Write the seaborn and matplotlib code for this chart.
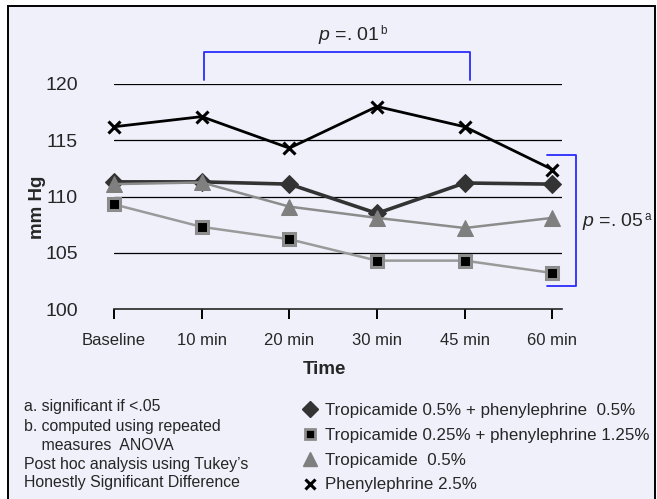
import matplotlib
matplotlib.use("Agg")
import matplotlib.pyplot as plt
from matplotlib.lines import Line2D
from matplotlib.patches import Rectangle
import seaborn as sns
import pandas as pd

# data
times = ["Baseline", "10 min", "20 min", "30 min", "45 min", "60 min"]
trop_phen_05 = [111.3, 111.3, 111.1, 108.5, 111.2, 111.1]
trop025_phen125 = [109.3, 107.3, 106.2, 104.3, 104.3, 103.2]
trop_05 = [111.1, 111.25, 109.1, 108.1, 107.2, 108.1]
phen_25 = [116.2, 117.1, 114.3, 118.0, 116.2, 112.4]

labels = ["Tropicamide 0.5% + phenylephrine  0.5%",
          "Tropicamide 0.25% + phenylephrine 1.25%",
          "Tropicamide  0.5%",
          "Phenylephrine 2.5%"]
footnotes = ["a. significant if <.05",
             "b. computed using repeated",
             "    measures  ANOVA",
             "Post hoc analysis using Tukey\u2019s",
             "Honestly Significant Difference"]

sns.set_style("white")
plt.rcParams["font.family"] = ["Liberation Sans", "DejaVu Sans"]
plt.rcParams["mathtext.fontset"] = "custom"
plt.rcParams["mathtext.rm"] = "Liberation Sans"
plt.rcParams["mathtext.it"] = "Liberation Sans:italic"

W, H = 657, 499
fig = plt.figure(figsize=(W / 100, H / 100), dpi=100, facecolor="white")
bg = "#f0f0fb"
fig.patches.append(Rectangle((8 / W, -0.01), (655 - 8) / W, (H - 6) / H + 0.01,
                             transform=fig.transFigure, facecolor=bg,
                             edgecolor="black", linewidth=1.4, zorder=-10))

ax = fig.add_axes([114 / W, (H - 309) / H, (562 - 114) / W, (309 - 84) / H])
ax.set_facecolor("none")

styles = [
    dict(color="#333333", marker="D", markersize=9, markerfacecolor="#333333",
         markeredgecolor="#333333", linewidth=2.6),
    dict(color="#8c8c8c", marker="^", markersize=12, markerfacecolor="#7f7f7f",
         markeredgecolor="#7f7f7f", linewidth=1.8),
    dict(color="#9a9a9a", marker="s", markersize=8, markerfacecolor="black",
         markeredgecolor="#8c8c8c", markeredgewidth=2.2, linewidth=1.8),
    dict(color="black", marker="x", markersize=8, markerfacecolor="black",
         markeredgecolor="black", markeredgewidth=2.2, linewidth=2),
]
series = [trop_phen_05, trop_05, trop025_phen125, phen_25]
for vals, st in zip(series, styles):
    df = pd.DataFrame({"time": times, "mmHg": vals})
    sns.lineplot(data=df, x="time", y="mmHg", sort=False, ax=ax, clip_on=False, **st)

ax.set_xlim(0, 5.11)
ax.set_ylim(100, 120)
for yv in [105, 110, 115, 120]:
    ax.axhline(yv, color="black", linewidth=0.9, zorder=0)
for s in ["top", "left", "right"]:
    ax.spines[s].set_visible(False)
ax.spines["bottom"].set_linewidth(1.2)
ax.set_yticks([100, 105, 110, 115, 120])
ax.tick_params(axis="y", left=False, length=0, pad=26, labelsize=14)
ax.tick_params(axis="x", bottom=True, direction="out", length=7, width=1.4, pad=10,
               labelsize=12, color="black")
ax.set_xlabel("")
ax.set_ylabel("")
fig.text(324 / W, 1 - 370 / H, "Time", ha="center", va="center", fontsize=13.5,
         fontweight="bold")
fig.text(37 / W, 1 - 207 / H, "mm Hg", ha="center", va="center", fontsize=13.5,
         fontweight="bold", rotation=90)

# significance brackets
blue = "#2a2aff"
ax.plot([1.03, 1.03, 4.06, 4.06], [120.36, 122.86, 122.86, 120.36], color=blue,
        linewidth=1.3, clip_on=False)
ax.plot([4.94, 5.27, 5.27, 4.94], [113.66, 113.66, 102.05, 102.05], color=blue,
        linewidth=1.3, clip_on=False)


def p_label(x, y, main, sup):
    t = fig.text(x / W, 1 - y / H, main, ha="left", va="center", fontsize=14)
    fig.canvas.draw()
    bb = t.get_window_extent()
    fig.text((bb.x1 + 0.5) / W, (bb.y1 - 6) / H, sup, ha="left", va="center", fontsize=8.5)


p_label(318, 35, r"$\it{p}$ =. 01", "b")
p_label(582, 222, r"$\it{p}$ =. 05", "a")

# footnotes
for i, t in enumerate(footnotes):
    y = [407, 426, 446, 464, 483][i]
    fig.text(24 / W, 1 - y / H, t, ha="left", va="center", fontsize=11.4)

handles = [
    Line2D([], [], linestyle="none", marker="D", markersize=8, color="#333333"),
    Line2D([], [], linestyle="none", marker="s", markersize=7, markerfacecolor="black",
           markeredgecolor="#8c8c8c", markeredgewidth=2),
    Line2D([], [], linestyle="none", marker="^", markersize=10, color="#7f7f7f"),
    Line2D([], [], linestyle="none", marker="x", markersize=7, color="black",
           markeredgewidth=2.2),
]
fig.legend(handles, labels, loc="upper left", bbox_to_anchor=(302 / W, 1 - 403 / H),
           frameon=False, fontsize=12.2, handlelength=0.9, handletextpad=0.45,
           labelspacing=0.58, borderpad=0, borderaxespad=0)

fig.savefig("out.png", dpi=100, facecolor="white")
